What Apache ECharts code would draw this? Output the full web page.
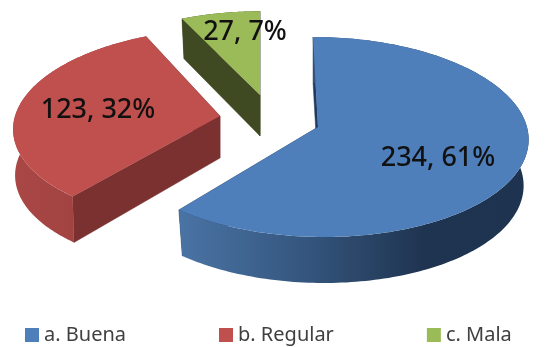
<!DOCTYPE html>
<html>
<head>
<meta charset="utf-8">
<style>html,body{margin:0;padding:0;background:#fff}#c{width:555px;height:347px}</style>
<script src="https://cdn.jsdelivr.net/npm/echarts@6/dist/echarts.min.js"></script>
</head>
<body>
<div id="c"></div>
<script>
const categories = ['a. Buena', 'b. Regular', 'c. Mala'];
const values = [234, 123, 27];
const percents = [61, 32, 7];

const colors = ['#4f7fbb', '#c0504d', '#9bbb59'];
const cutColors = ['#1f3a5f', '#7b3130', '#3f4a22'];
const rimStops = [
  [[0, '#4a74a5'], [0.35, '#35577f'], [0.7, '#1f3450'], [1, '#1e3350']],
  [[0, '#a94745'], [1, '#9a3f3e']],
  [[0, '#3f4a22'], [1, '#3f4a22']]
];
const apexes = [[318, 127], [220, 116], [260, 95]];
const radiiX = [210, 206, 200];
const radiiY = [100, 97, 93];
const slants = [0.055, -0.08, 0];
const depths = [46, 46, 40];
const apexDepths = [42, 42, 41];
const shrinks = [5, 2, 5];
const labelAnchors = [[438, 158], [98, 110], [245, 32]];
const perspective = -0.1;
const total = values.reduce((a, b) => a + b, 0);

function rimPoint(i, deg, rxDelta, dy) {
  const t = deg * Math.PI / 180;
  const X = Math.sin(t), Y = -Math.cos(t);
  const d = 1 + perspective * Y;
  const px = X * Math.sqrt(1 - perspective * perspective) / d;
  const py = (Y + perspective) / d;
  const ex = apexes[i][0];
  const ey = apexes[i][1] - perspective * radiiY[i];
  const y = ey + py * radiiY[i];
  const x = ex + px * (radiiX[i] - rxDelta) + slants[i] * (y - apexes[i][1]);
  return [x, y + dy];
}

function makeRenderItem(i) {
  const before = values.slice(0, i).reduce((a, b) => a + b, 0);
  return function (params, api) {
    const a0 = before / total * 360;
    const a1 = a0 + api.value(0) / total * 360;
    const top = [], bottom = [];
    for (let k = 0; k <= 180; k++) {
      const a = a0 + (a1 - a0) * k / 180;
      top.push(rimPoint(i, a, 0, 0));
      bottom.push(rimPoint(i, a, shrinks[i], depths[i]));
    }
    const apex = apexes[i];
    const apexB = [apex[0], apex[1] + apexDepths[i]];
    const first = 0, last = top.length - 1;
    const cut = (t, b) => ({
      type: 'polygon',
      shape: { points: [t, apex, apexB, b] },
      style: { fill: cutColors[i], stroke: cutColors[i], lineWidth: 0.5 }
    });
    return {
      type: 'group',
      children: [
        cut(top[first], bottom[first]),
        cut(top[last], bottom[last]),
        {
          type: 'polygon',
          shape: { points: top.concat(bottom.slice().reverse()) },
          style: {
            fill: {
              type: 'linear', x: 0, y: 0, x2: 1, y2: 0,
              colorStops: rimStops[i].map(s => ({ offset: s[0], color: s[1] }))
            }
          }
        },
        {
          type: 'polygon',
          shape: { points: [apex].concat(top) },
          style: { fill: colors[i] }
        },
        {
          type: 'text',
          z2: 100,
          style: {
            text: api.value(0) + ', ' + api.value(1) + '%',
            x: labelAnchors[i][0],
            y: labelAnchors[i][1],
            align: 'center',
            verticalAlign: 'middle',
            textAlign: 'center',
            textVerticalAlign: 'middle',
            fill: '#111111',
            font: '500 27px "Noto Sans"'
          }
        }
      ]
    };
  };
}

const chart = echarts.init(document.getElementById('c'), null, { renderer: 'canvas' });
chart.setOption({
  animation: false,
  backgroundColor: '#ffffff',
  legend: {
    left: 25,
    top: 325,
    padding: 0,
    icon: 'rect',
    itemWidth: 14,
    itemHeight: 14,
    itemGap: 93,
    selectedMode: false,
    textStyle: { color: '#404040', fontSize: 20, fontFamily: 'Noto Sans' },
    data: categories
  },
  series: categories.map((name, i) => ({
    type: 'custom',
    name: name,
    coordinateSystem: 'none',
    itemStyle: { color: colors[i] },
    renderItem: makeRenderItem(i),
    data: [[values[i], percents[i]]],
    silent: true
  }))
});
</script>
</body>
</html>
